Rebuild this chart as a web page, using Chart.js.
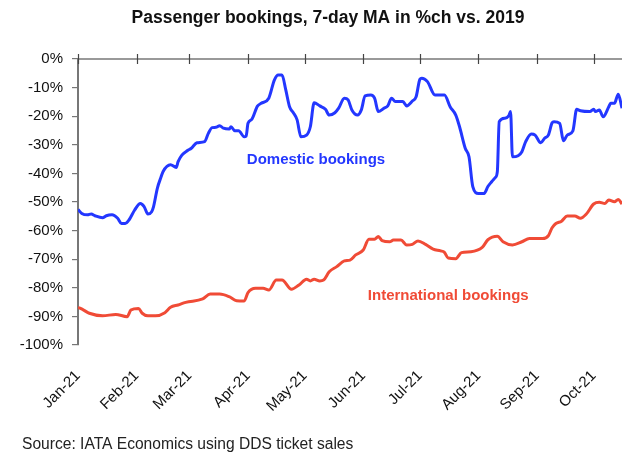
<!DOCTYPE html>
<html>
<head>
<meta charset="utf-8">
<script src="https://cdn.jsdelivr.net/npm/chart.js@4"></script>
<style>
  html, body { margin: 0; padding: 0; background: #fff; }
  #wrap { width: 644px; height: 454px; }
</style>
</head>
<body>
<div id="wrap"><canvas id="c" width="644" height="454"></canvas></div>
<script>
// ---- Data (day index from 1 Jan 2021) ----
const monthTicks = [0, 31, 59, 90, 120, 151, 181, 212, 243, 273];
const monthLabels = ['Jan-21','Feb-21','Mar-21','Apr-21','May-21','Jun-21','Jul-21','Aug-21','Sep-21','Oct-21'];
const lastDay = 288;

const domDays = [0,2,5,7,9,13,15,18,21,23,25,27,30,33,35,37,39,40,42,44,45,49,52,53,55,58,60,63,67,69,71,73,75,77,80,81,83,85,88,89,90,92,95,97,101,104,106,108,110,112,114,116,118,121,123,125,128,131,133,136,138,141,143,145,148,150,152,155,157,159,162,164,166,168,172,174,177,179,181,182,185,189,194,197,200,202,205,207,209,212,215,217,219,221,222,223,226,228,229,230,233,235,237,240,242,245,247,249,251,252,255,257,259,262,264,266,271,273,274,276,278,281,282,284,286,288];
const domValues = [-52.6,-54,-54.5,-54.2,-54.8,-55.5,-54.8,-54.5,-55.7,-57.5,-57.5,-56.3,-52.8,-50.5,-51.6,-54.2,-53.4,-51.6,-45.2,-41.2,-39.4,-37,-37.9,-35.9,-33.6,-32,-31.2,-29.3,-28.9,-26,-24,-23.9,-23.3,-24.2,-24.5,-23.7,-25.1,-25.1,-27.2,-27,-22.5,-21.1,-16.5,-15.5,-13.7,-7.3,-5.6,-5.6,-10.8,-16.7,-18.8,-21.3,-27.2,-26.6,-23.7,-15.3,-16.4,-17.6,-19.6,-18.8,-17.2,-13.7,-14.3,-17.8,-19.6,-17.8,-12.9,-12.6,-13.7,-18.4,-17.2,-16.4,-13.7,-14.9,-14.9,-16.4,-14.7,-13.2,-7.1,-6.7,-7.9,-12.6,-12.6,-16.7,-19.6,-23.7,-31.2,-34.2,-44.6,-47,-47,-44.6,-42.9,-41.4,-39.4,-21.9,-20.7,-19.9,-18.4,-34.2,-33.8,-32.4,-28.9,-26.2,-26.6,-29.3,-27.7,-26.6,-22.3,-21.9,-22.5,-28.6,-26.6,-25.1,-17.6,-18.1,-18.4,-17.6,-18.4,-17.8,-20.2,-16.7,-15.5,-15.5,-12.3,-17.2];

const intlDays = [0,3,6,13,20,26,28,32,34,37,41,46,49,53,57,66,70,75,80,84,88,90,94,98,101,105,108,113,117,121,123,125,128,130,133,137,141,144,147,151,154,157,159,161,165,167,171,174,177,180,184,188,192,194,196,200,203,208,214,217,222,225,230,235,239,246,249,251,253,256,259,263,266,269,273,276,279,281,284,286,288];
const intlValues = [-86.8,-87.8,-88.9,-89.8,-89.3,-90.1,-87.8,-87.2,-88.9,-89.8,-89.8,-88.7,-86.8,-86,-85.1,-83.9,-82.2,-82.2,-83.1,-84.5,-84.6,-81.7,-80.2,-80.2,-80.8,-77.3,-77.3,-80.5,-79,-77,-77.6,-77,-77.6,-77.3,-74.4,-72.6,-70.6,-70.3,-68.5,-66.8,-63,-63,-62.1,-63.5,-63.9,-63.3,-63.3,-65,-64.8,-63.6,-64.8,-66.5,-67.1,-67.6,-69.6,-69.8,-67.7,-67.4,-65.9,-63.2,-62,-63.9,-65,-63.9,-62.8,-62.8,-61.8,-59,-57.5,-56.7,-54.9,-54.9,-55.7,-54.3,-50.7,-50.1,-50.5,-49.3,-49.9,-49.1,-50.7];

const titleText = 'Passenger bookings, 7-day MA in %ch vs. 2019';
const sourceText = 'Source: IATA Economics using DDS ticket sales';
const domLabel = { text: 'Domestic bookings', day: 126, value: -35.3 };
const intlLabel = { text: 'International bookings', day: 196, value: -82.9 };

// ---- Styles ----
const BLUE = '#2337ff';
const RED = '#f04b36';
const AXIS = '#777777';
const FONT = "'Liberation Sans', Arial, sans-serif";

const toPoints = (d, v) => d.map((x, i) => ({ x, y: v[i] }));

const decor = {
  id: 'decor',
  afterDraw(chart) {
    const { ctx, chartArea, scales } = chart;
    const xs = scales.x, ys = scales.y;
    ctx.save();
    // top axis line with crossing tick marks
    ctx.strokeStyle = AXIS;
    ctx.lineWidth = 1.5;
    ctx.beginPath();
    ctx.moveTo(chartArea.left, chartArea.top);
    ctx.lineTo(chartArea.right, chartArea.top);
    ctx.stroke();
    ctx.lineWidth = 1.2;
    ctx.strokeStyle = '#444';
    monthTicks.forEach(t => {
      const px = Math.round(xs.getPixelForValue(t)) + 0.5;
      ctx.beginPath();
      ctx.moveTo(px, chartArea.top - 5);
      ctx.lineTo(px, chartArea.top + 5);
      ctx.stroke();
    });
    // series labels
    ctx.font = 'bold 15px ' + FONT;
    ctx.textAlign = 'center';
    ctx.textBaseline = 'middle';
    ctx.fillStyle = BLUE;
    ctx.fillText(domLabel.text, xs.getPixelForValue(domLabel.day), ys.getPixelForValue(domLabel.value));
    ctx.fillStyle = RED;
    ctx.fillText(intlLabel.text, xs.getPixelForValue(intlLabel.day), ys.getPixelForValue(intlLabel.value));
    // title
    ctx.fillStyle = '#111';
    ctx.font = 'bold 17.5px ' + FONT;
    ctx.fillText(titleText, 328, 18);
    // source
    ctx.textAlign = 'left';
    ctx.font = '15.6px ' + FONT;
    ctx.fillStyle = '#222';
    ctx.fillText(sourceText, 22, 445);
    ctx.restore();
  }
};

new Chart(document.getElementById('c'), {
  type: 'line',
  data: {
    datasets: [
      { label: 'Domestic bookings', data: toPoints(domDays, domValues), borderColor: BLUE, borderWidth: 3, pointRadius: 0, cubicInterpolationMode: 'monotone', fill: false },
      { label: 'International bookings', data: toPoints(intlDays, intlValues), borderColor: RED, borderWidth: 3, pointRadius: 0, cubicInterpolationMode: 'monotone', fill: false }
    ]
  },
  options: {
    responsive: false,
    animation: false,
    layout: { padding: { top: 59, right: 22, bottom: 0, left: 0 } },
    plugins: { legend: { display: false }, title: { display: false }, tooltip: { enabled: false } },
    scales: {
      x: {
        type: 'linear',
        min: 0,
        max: lastDay,
        grid: { display: false },
        border: { display: false },
        afterBuildTicks: s => { s.ticks = monthTicks.map(v => ({ value: v })); },
        afterFit: s => { s.height = 109; },
        ticks: {
          autoSkip: false,
          minRotation: 45,
          maxRotation: 45,
          padding: 14,
          color: '#111',
          font: { family: FONT, size: 15 },
          callback: (v) => monthLabels[monthTicks.indexOf(v)]
        }
      },
      y: {
        min: -100,
        max: 0,
        afterFit: s => { s.width = 78; },
        grid: { display: true, drawOnChartArea: false, drawTicks: true, tickLength: 6, color: AXIS, lineWidth: 1.2 },
        border: { display: true, color: AXIS, width: 2 },
        ticks: {
          stepSize: 10,
          padding: 9,
          color: '#111',
          font: { family: FONT, size: 15 },
          callback: v => v + '%'
        }
      }
    }
  },
  plugins: [decor]
});
</script>
</body>
</html>
